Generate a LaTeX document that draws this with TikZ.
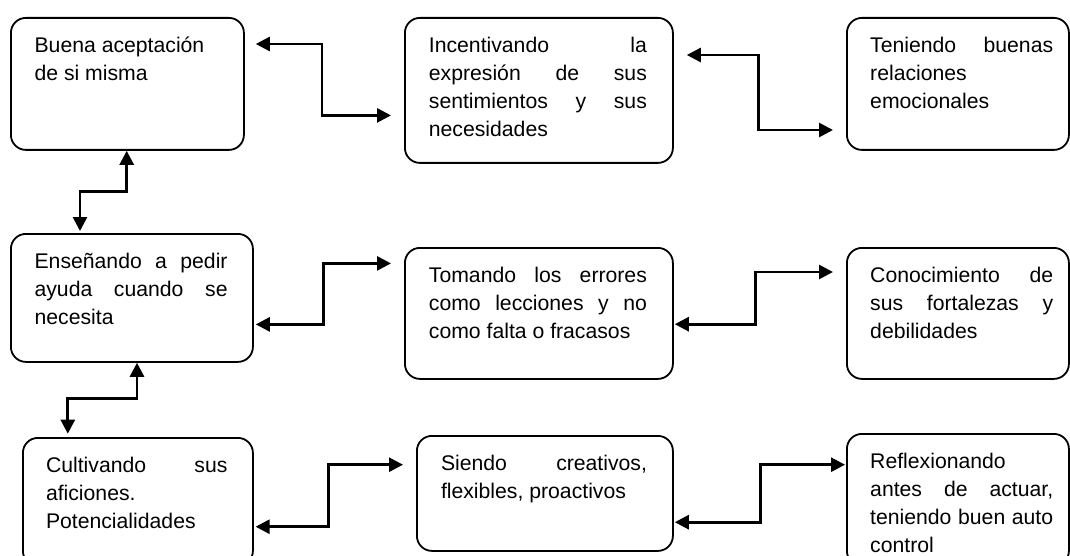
\documentclass[tikz,border=0pt]{standalone}
\usepackage{fontspec}
\setmainfont{Liberation Sans}
\usetikzlibrary{arrows.meta,calc}
\hyphenpenalty=10000
\exhyphenpenalty=10000
\tolerance=10000
\hbadness=10000
\tikzset{
  box/.style={draw=black, line width=1.8pt, rounded corners=15pt, inner sep=0pt, anchor=north west},
  txt/.style={inner sep=0pt, anchor=north west, align=justify,
    font=\fontsize{21.2pt}{28pt}\selectfont},
  conn/.style={draw=black, line width=2.7pt, {Triangle[length=14pt,width=14pt]}-{Triangle[length=14pt,width=14pt]}}
}
\newcommand{\fl}{\rule{0pt}{35.5pt}}
\begin{document}
\begin{tikzpicture}[x=1pt,y=-1pt]
\useasboundingbox (0,0) rectangle (1070,556);
\clip (0,0) rectangle (1070,556);
% boxes
\node[box, minimum width=233pt, minimum height=132pt] (b1) at (10,17) {};
\node[box, minimum width=268pt, minimum height=145pt] (b2) at (404,17) {};
\node[box, minimum width=222pt, minimum height=132pt] (b3) at (846,17) {};
\node[box, minimum width=242pt, minimum height=128pt] (b4) at (10,233) {};
\node[box, minimum width=268pt, minimum height=131pt] (b5) at (404,247) {};
\node[box, minimum width=222pt, minimum height=131pt] (b6) at (846,247) {};
\node[box, minimum width=230pt, minimum height=128pt] (b7) at (22,437) {};
\node[box, minimum width=256pt, minimum height=115pt] (b8) at (416,435) {};
\node[box, minimum width=222pt, minimum height=132pt] (b9) at (846,433) {};
% texts
\node[txt, text width=190pt] (t1) at ([shift={(24.4,0)}]b1.north west) {\fl Buena aceptación\newline de si misma};
\node[txt, text width=218pt] (t2) at ([shift={(24.7,0)}]b2.north west) {\fl Incentivando la\linebreak expresión de sus\linebreak sentimientos y sus\linebreak necesidades};
\node[txt, text width=183pt] (t3) at ([shift={(24,0)}]b3.north west) {\fl Teniendo buenas\linebreak relaciones\newline emocionales};
\node[txt, text width=193pt] (t4) at ([shift={(24.4,0)}]b4.north west) {\fl Enseñando a pedir\linebreak ayuda cuando se\linebreak necesita};
\node[txt, text width=218pt] (t5) at ([shift={(24.7,0)}]b5.north west) {\fl Tomando los errores\linebreak como lecciones y no\linebreak como falta o fracasos};
\node[txt, text width=183pt] (t6) at ([shift={(24,0)}]b6.north west) {\fl Conocimiento de\linebreak sus fortalezas y\linebreak debilidades};
\node[txt, text width=181.5pt] (t7) at ([shift={(23.8,0)}]b7.north west) {\fl Cultivando sus\linebreak aficiones.\newline Potencialidades};
\node[txt, text width=206pt] (t8) at ([shift={(24.8,0)}]b8.north west) {\fl Siendo creativos,\linebreak flexibles, proactivos};
\node[txt, text width=183pt] (t9) at ([shift={(24,0)}]b9.north west) {\fl Reflexionando\newline antes de actuar,\linebreak teniendo buen auto\linebreak control};
% connectors
\draw[conn] ([shift={(11,27)}]b1.north east) -| ([shift={(-82,98.4)}]b2.north west) -- ([shift={(-13,98.4)}]b2.north west);
\draw[conn] ([shift={(13,38)}]b2.north east) -| ([shift={(-87.7,113)}]b3.north west) -- ([shift={(-13,113)}]b3.north west);
\draw[conn] ([shift={(116.7,0)}]b1.south west) -- ++(0,41) -| ([shift={(70,-2)}]b4.north west);
\draw[conn] ([shift={(-13,16.4)}]b5.north west) -| ([shift={(70,91.4)}]b4.north east) -- ([shift={(2,91.4)}]b4.north east);
\draw[conn] ([shift={(-13,25)}]b6.north west) -| ([shift={(82,77.2)}]b5.north east) -- ([shift={(1,77.2)}]b5.north east);
\draw[conn] ([shift={(127,0)}]b4.south west) -- ++(0,35.4) -| ([shift={(45.8,-3.3)}]b7.north west);
\draw[conn] ([shift={(-13,29.7)}]b8.north west) -| ([shift={(75,89.7)}]b7.north east) -- ([shift={(1.8,89.7)}]b7.north east);
\draw[conn] ([shift={(-1,31.7)}]b9.north west) -| ([shift={(87,87.2)}]b8.north east) -- ([shift={(1,87.2)}]b8.north east);
\end{tikzpicture}
\end{document}
